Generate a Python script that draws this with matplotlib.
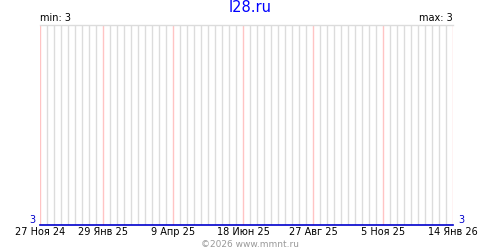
import matplotlib
matplotlib.use("Agg")
import matplotlib.pyplot as plt
import matplotlib.dates as mdates
import datetime as dt

dates = ["2024-11-27", "2026-01-14"]
values = [3, 3]
tick_dates = ["2024-11-27", "2025-01-29", "2025-04-09", "2025-06-18",
              "2025-08-27", "2025-11-05", "2026-01-14"]
tick_labels = ["27 Ноя 24", "29 Янв 25", "9 Апр 25", "18 Июн 25",
               "27 Авг 25", "5 Ноя 25", "14 Янв 26"]
title = "l28.ru"
footer = "©2026 www.mmnt.ru"

d = [dt.datetime.strptime(s, "%Y-%m-%d") for s in dates]
td = [dt.datetime.strptime(s, "%Y-%m-%d") for s in tick_dates]

fig = plt.figure(figsize=(5, 2.5), dpi=100)
ax = fig.add_axes([40/500, 25/250, 413/500, 200/250])
ax.set_xlim(d[0], d[-1])
vmin, vmax = min(values), max(values)
ax.set_ylim(vmin, vmin + 1)

ax.xaxis.set_minor_locator(mdates.WeekdayLocator(byweekday=mdates.WE))
ax.set_xticks(td)
ax.set_xticklabels(tick_labels, fontsize=7)
ax.tick_params(axis="x", which="both", length=0, pad=1.5)
ax.tick_params(axis="y", left=False, labelleft=False)
ax.grid(True, which="minor", axis="x", color="#dcdcdc", linewidth=1)
ax.grid(True, which="major", axis="x", color="#ffc4c4", linewidth=1)
ax.set_axisbelow(True)

for s in ["left", "right", "bottom"]:
    ax.spines[s].set_visible(False)
ax.spines["top"].set_color("#dcdcdc")
ax.spines["top"].set_linewidth(1)

ax.plot(d, values, color="#0000cc", linewidth=1.2, clip_on=False, zorder=5)

ax.text(-0.012, 0.0, str(vmin), transform=ax.transAxes, color="#0000cc",
        fontsize=7, ha="right", va="bottom")
ax.text(1.012, 0.0, str(vmax), transform=ax.transAxes, color="#0000cc",
        fontsize=7, ha="left", va="bottom")
ax.text(0.0, 1.01, f"min: {vmin}", transform=ax.transAxes, fontsize=7,
        ha="left", va="bottom")
ax.text(1.0, 1.01, f"max: {vmax}", transform=ax.transAxes, fontsize=7,
        ha="right", va="bottom")

fig.text(0.5, 1 - 8/250, title, color="#0000ff", fontsize=10.5,
         ha="center", va="center")
fig.text(0.5, 1 - 244.5/250, footer, color="#999999", fontsize=6.5,
         ha="center", va="center")

fig.savefig("out.png", dpi=100)
